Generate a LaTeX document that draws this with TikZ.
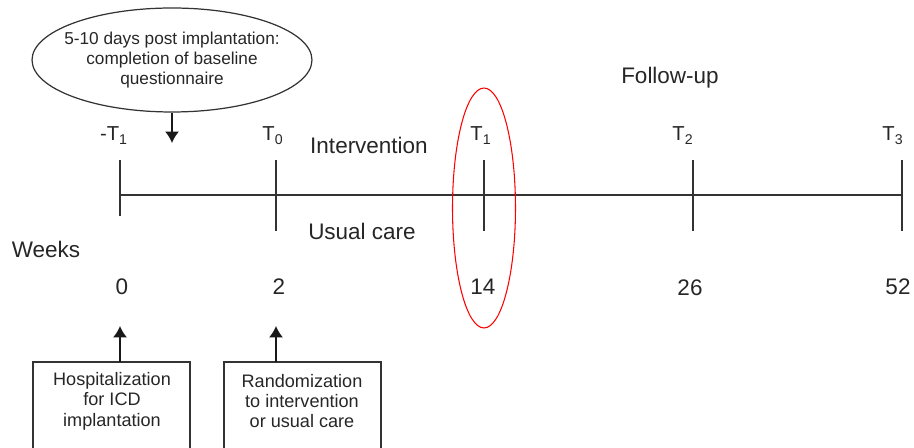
\documentclass[tikz,border=0pt]{standalone}
\usepackage{fontspec}
\setmainfont{Liberation Sans}
\usetikzlibrary{shapes,arrows.meta}

\begin{document}
\begin{tikzpicture}[x=0.02cm,y=-0.02cm,>={Latex[length=6.5pt,width=8pt]},
  lbl/.style={anchor=base,text=black!85,font=\fontsize{12.8}{15}\selectfont},
  tlbl/.style={anchor=base,text=black!85,font=\fontsize{11.5}{14}\selectfont},
  note/.style={align=center,text=black!85,font=\fontsize{9.8}{11.3}\selectfont}]

\useasboundingbox (0,0) rectangle (914,448);
\clip (0,0) rectangle (914,448);

%time line
\coordinate (start) at (120,195);
\coordinate (stop) at (902,195);
\draw[black!80,line width=0.9pt](start)--(stop);
\draw[black!80,line width=0.9pt](120,160)--(120,216);
\foreach \x in {276,484,693,902}
  \draw[black!80,line width=0.9pt](\x,160)--(\x,231);

\node[tlbl] (tm1) at (114,141) {-T\textsubscript{1}};
\node[tlbl] (t0) at (273,141) {T\textsubscript{0}};
\node[tlbl] (t1) at (481,141) {T\textsubscript{1}};
\node[tlbl] (t2) at (683,141) {T\textsubscript{2}};
\node[tlbl] (t3) at (893,141) {T\textsubscript{3}};

\node[lbl] (interv) at (369,154) {Intervention};
\node[lbl] (usual) at (362,240) {Usual care};
\node[lbl] (follow) at (670,84) {Follow-up};
\node[lbl] (weeks) at (46,258) {Weeks};

\node[lbl] (w0) at (122,295) {0};
\node[lbl] (w2) at (279,295) {2};
\node[lbl] (w14) at (483,295) {14};
\node[lbl] (w26) at (690,296) {26};
\node[lbl] (w52) at (898,295) {52};

%baseline questionnaire
\node[note,draw=black!80,line width=0.7pt,ellipse,inner xsep=-6pt,inner ysep=2pt,
  minimum width=5.6cm,minimum height=2.08cm] (quest) at (172,60)
  {5-10 days post implantation:\\completion of baseline\\questionnaire};
\coordinate (questend) at (172,143);
\draw[->,black!90,line width=0.9pt](quest.south)--(questend);

%boxes below
\node[note,font=\fontsize{10.3}{11.6}\selectfont] (hosp) at (112,401)
  {Hospitalization\\for ICD\\implantation};
\draw[black!80,line width=0.9pt](33,470)|-(190,362)--(190,470);
\coordinate (hosptop) at (120,362);
\coordinate (hospend) at (120,326);
\draw[->,black!90,line width=0.9pt](hosptop)--(hospend);

\node[note,font=\fontsize{10.3}{11.6}\selectfont] (rand) at (302,401)
  {Randomization\\to intervention\\or usual care};
\draw[black!80,line width=0.9pt](224,470)|-(381,362)--(381,470);
\coordinate (randtop) at (276,362);
\coordinate (randend) at (276,326);
\draw[->,black!90,line width=0.9pt](randtop)--(randend);

%mark on T1
\draw[red,line width=0.6pt](484,208)ellipse[x radius=0.63cm,y radius=2.4cm];

\end{tikzpicture}
\end{document}
